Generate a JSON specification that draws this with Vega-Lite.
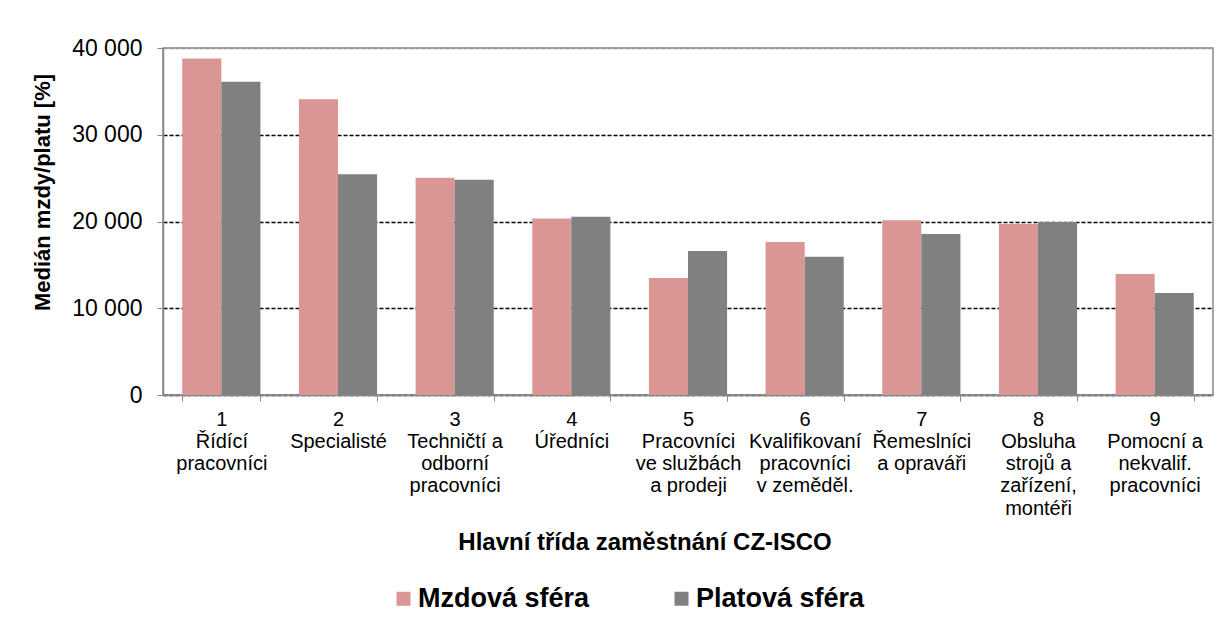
{
  "$schema": "https://vega.github.io/schema/vega-lite/v6.json",
  "autosize": {"type": "none"},
  "padding": {"left": 163, "top": 48, "right": 15, "bottom": 224},
  "width": 1050,
  "height": 347,
  "background": "white",
  "config": {
    "font": "Liberation Sans",
    "view": {"stroke": "#888888", "strokeWidth": 1.5}
  },
  "data": {
    "values": [
      {"kat": "1|Řídící|pracovníci", "sfera": "Mzdová sféra", "median": 38800},
      {"kat": "1|Řídící|pracovníci", "sfera": "Platová sféra", "median": 36100},
      {"kat": "2|Specialisté", "sfera": "Mzdová sféra", "median": 34100},
      {"kat": "2|Specialisté", "sfera": "Platová sféra", "median": 25450},
      {"kat": "3|Techničtí a|odborní|pracovníci", "sfera": "Mzdová sféra", "median": 25050},
      {"kat": "3|Techničtí a|odborní|pracovníci", "sfera": "Platová sféra", "median": 24800},
      {"kat": "4|Úředníci", "sfera": "Mzdová sféra", "median": 20350},
      {"kat": "4|Úředníci", "sfera": "Platová sféra", "median": 20550},
      {"kat": "5|Pracovníci|ve službách|a prodeji", "sfera": "Mzdová sféra", "median": 13500},
      {"kat": "5|Pracovníci|ve službách|a prodeji", "sfera": "Platová sféra", "median": 16600},
      {"kat": "6|Kvalifikovaní|pracovníci|v zeměděl.", "sfera": "Mzdová sféra", "median": 17650},
      {"kat": "6|Kvalifikovaní|pracovníci|v zeměděl.", "sfera": "Platová sféra", "median": 15950},
      {"kat": "7|Řemeslníci|a opraváři", "sfera": "Mzdová sféra", "median": 20150},
      {"kat": "7|Řemeslníci|a opraváři", "sfera": "Platová sféra", "median": 18550},
      {"kat": "8|Obsluha|strojů a|zařízení,|montéři", "sfera": "Mzdová sféra", "median": 19700},
      {"kat": "8|Obsluha|strojů a|zařízení,|montéři", "sfera": "Platová sféra", "median": 19950},
      {"kat": "9|Pomocní a|nekvalif.|pracovníci", "sfera": "Mzdová sféra", "median": 13950},
      {"kat": "9|Pomocní a|nekvalif.|pracovníci", "sfera": "Platová sféra", "median": 11750}
    ]
  },
  "mark": {"type": "bar"},
  "encoding": {
    "x": {
      "field": "kat",
      "type": "nominal",
      "sort": null,
      "scale": {"paddingInner": 0.33, "paddingOuter": 0.165},
      "axis": {
        "title": "Hlavní třída zaměstnání CZ-ISCO",
        "titleFont": "Liberation Sans",
        "titleFontSize": 24,
        "titleFontWeight": "bold",
        "titleColor": "black",
        "titleX": 481.5,
        "titleY": 154,
        "titleAlign": "center",
        "titleBaseline": "alphabetic",
        "labelExpr": "split(datum.label, '|')",
        "labelAngle": 0,
        "labelFontSize": 20,
        "labelColor": "black",
        "labelLineHeight": 22.3,
        "labelPadding": 8,
        "labelOverlap": false,
        "labelBound": false,
        "labelLimit": 0,
        "tickBand": "extent",
        "tickSize": 6,
        "tickColor": "#888888",
        "domainColor": "#888888",
        "domainWidth": 1.5,
        "grid": false
      }
    },
    "xOffset": {"field": "sfera", "type": "nominal", "sort": ["Mzdová sféra", "Platová sféra"]},
    "y": {
      "field": "median",
      "type": "quantitative",
      "scale": {"domain": [0, 40000], "nice": false},
      "axis": {
        "title": "Medián mzdy/platu [%]",
        "titleFontSize": 22,
        "titleFontWeight": "bold",
        "titleColor": "black",
        "titleAngle": 270,
        "titleX": -121,
        "titleY": 144,
        "titleAlign": "center",
        "titleBaseline": "middle",
        "values": [0, 10000, 20000, 30000, 40000],
        "labelExpr": "replace(format(datum.value, ','), ',', ' ')",
        "labelFontSize": 23,
        "labelColor": "black",
        "labelPadding": 15,
        "tickSize": 6,
        "tickColor": "#888888",
        "domainColor": "#888888",
        "domainWidth": 1.5,
        "grid": true,
        "gridColor": {"condition": {"test": "datum.value === 40000", "value": "#999999"}, "value": "black"},
        "gridDash": [4, 2],
        "gridWidth": 1.3
      }
    },
    "color": {
      "field": "sfera",
      "type": "nominal",
      "sort": ["Mzdová sféra", "Platová sféra"],
      "scale": {"domain": ["Mzdová sféra", "Platová sféra"], "range": ["#D99694", "#808080"]},
      "legend": {
        "title": null,
        "orient": "none",
        "direction": "horizontal",
        "columns": 2,
        "legendX": 227,
        "legendY": 537,
        "padding": 0,
        "columnPadding": 78,
        "symbolType": "square",
        "symbolSize": 196,
        "symbolStrokeWidth": 0,
        "labelFontSize": 27,
        "labelFontWeight": "bold",
        "labelColor": "black",
        "labelOffset": 1,
        "labelLimit": 0
      }
    }
  }
}
